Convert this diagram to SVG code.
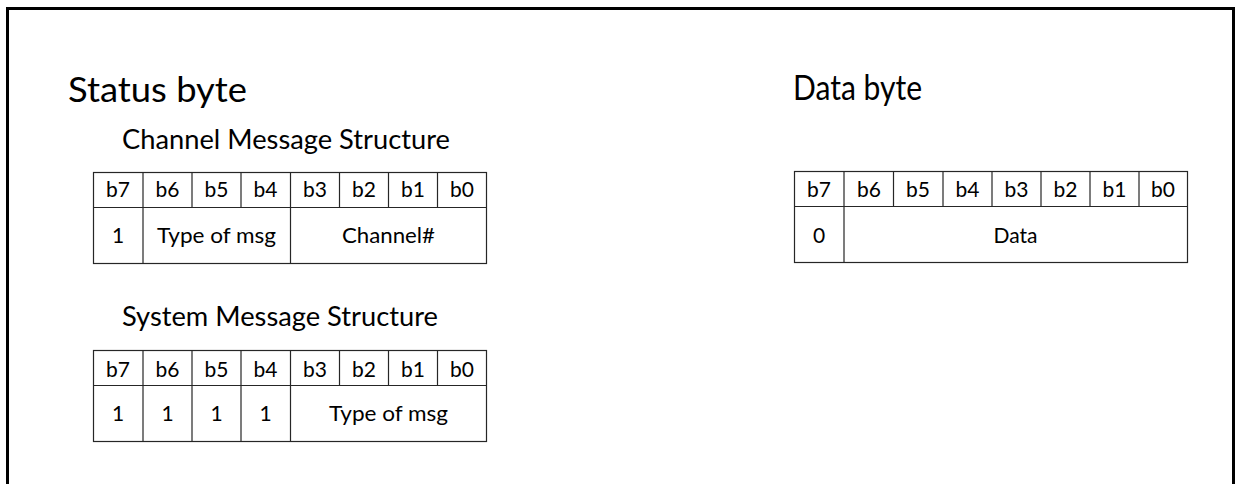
<svg xmlns="http://www.w3.org/2000/svg" width="1237" height="484" viewBox="0 0 1237 484">
  <style>
    .frame { fill: none; stroke: #000; stroke-width: 3; }
    .cell { fill: #fff; stroke: #262626; stroke-width: 1.2; }
    .title { font-family: Lato, "Open Sans", sans-serif; font-size: 35px; fill: #000; }
    .sub { font-family: Lato, "Open Sans", sans-serif; font-size: 26px; fill: #000; }
    .txt { font-family: Lato, "Open Sans", sans-serif; font-size: 21px; fill: #000; text-anchor: middle; }
  </style>
  <rect width="1237" height="484" fill="#fff"/>
  <rect class="frame" x="7.5" y="8.5" width="1226" height="490"/>

  <g id="status-byte">
    <text class="title" x="68" y="102" textLength="179" lengthAdjust="spacingAndGlyphs">Status byte</text>
  </g>

  <g id="channel-message">
    <text class="sub" x="122" y="149" textLength="328" lengthAdjust="spacingAndGlyphs">Channel Message Structure</text>
    <rect class="cell" x="93.5" y="172.5" width="393" height="91"/>
    <path class="cell" d="M93.5 207.5H486.5M143 172.5V263.5M192 172.5V207.5M241 172.5V207.5M290.5 172.5V263.5M339.5 172.5V207.5M388.5 172.5V207.5M437.5 172.5V207.5"/>
    <text class="txt" x="118" y="197">b7</text>
    <text class="txt" x="167.5" y="197">b6</text>
    <text class="txt" x="216.5" y="197">b5</text>
    <text class="txt" x="265.5" y="197">b4</text>
    <text class="txt" x="315" y="197">b3</text>
    <text class="txt" x="364" y="197">b2</text>
    <text class="txt" x="413" y="197">b1</text>
    <text class="txt" x="462" y="197">b0</text>
    <text class="txt" x="118" y="242.5">1</text>
    <text class="txt" x="216.5" y="242.5" textLength="119" lengthAdjust="spacingAndGlyphs">Type of msg</text>
    <text class="txt" x="388.5" y="242.5" textLength="93" lengthAdjust="spacingAndGlyphs">Channel#</text>
  </g>

  <g id="system-message">
    <text class="sub" x="122" y="326" textLength="316" lengthAdjust="spacingAndGlyphs">System Message Structure</text>
    <rect class="cell" x="93.5" y="350.5" width="393" height="91"/>
    <path class="cell" d="M93.5 385.5H486.5M143 350.5V441.5M192 350.5V441.5M241 350.5V441.5M290.5 350.5V441.5M339.5 350.5V385.5M388.5 350.5V385.5M437.5 350.5V385.5"/>
    <text class="txt" x="118" y="377">b7</text>
    <text class="txt" x="167.5" y="377">b6</text>
    <text class="txt" x="216.5" y="377">b5</text>
    <text class="txt" x="265.5" y="377">b4</text>
    <text class="txt" x="315" y="377">b3</text>
    <text class="txt" x="364" y="377">b2</text>
    <text class="txt" x="413" y="377">b1</text>
    <text class="txt" x="462" y="377">b0</text>
    <text class="txt" x="118" y="420.5">1</text>
    <text class="txt" x="167.5" y="420.5">1</text>
    <text class="txt" x="216.5" y="420.5">1</text>
    <text class="txt" x="265.5" y="420.5">1</text>
    <text class="txt" x="388.5" y="420.5" textLength="119" lengthAdjust="spacingAndGlyphs">Type of msg</text>
  </g>

  <g id="data-byte">
    <text class="title" x="793" y="99.5" textLength="129" lengthAdjust="spacingAndGlyphs">Data byte</text>
    <rect class="cell" x="794.5" y="171.5" width="393" height="91"/>
    <path class="cell" d="M794.5 206.5H1187.5M844 171.5V262.5M893.5 171.5V206.5M943 171.5V206.5M992 171.5V206.5M1041 171.5V206.5M1090 171.5V206.5M1139 171.5V206.5"/>
    <text class="txt" x="819" y="197">b7</text>
    <text class="txt" x="869" y="197">b6</text>
    <text class="txt" x="918" y="197">b5</text>
    <text class="txt" x="967.5" y="197">b4</text>
    <text class="txt" x="1016.5" y="197">b3</text>
    <text class="txt" x="1065.5" y="197">b2</text>
    <text class="txt" x="1114.5" y="197">b1</text>
    <text class="txt" x="1163" y="197">b0</text>
    <text class="txt" x="819" y="243">0</text>
    <text class="txt" x="1015.5" y="243" textLength="44" lengthAdjust="spacingAndGlyphs">Data</text>
  </g>
</svg>
